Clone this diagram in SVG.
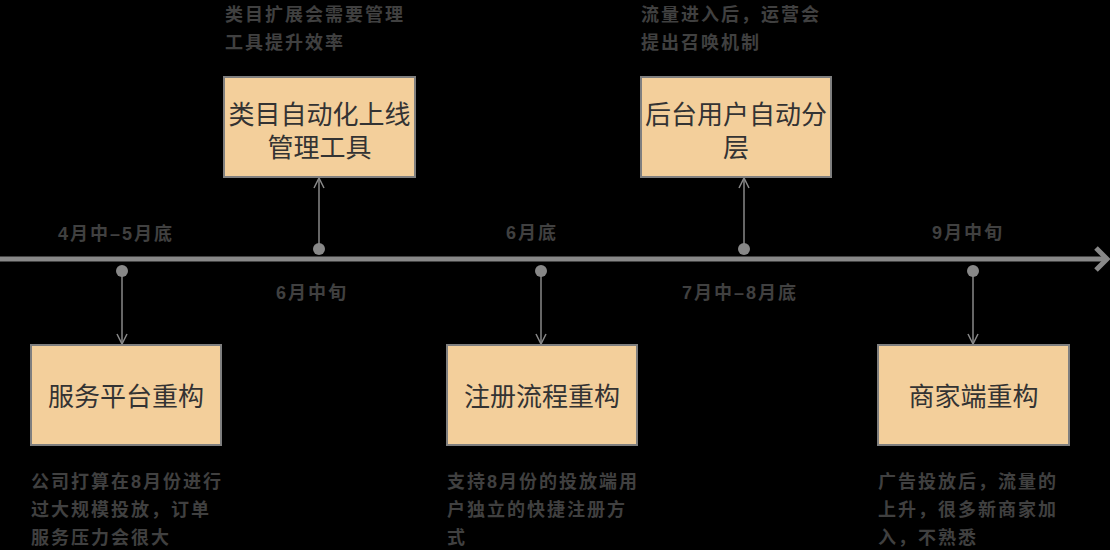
<svg xmlns="http://www.w3.org/2000/svg" width="1110" height="550" viewBox="0 0 1110 550">
<defs>
<style>
.box{fill:#f3cf9b;stroke:#7f7f7f;stroke-width:2}
.bt{font-family:"Liberation Sans","Noto Sans CJK SC",sans-serif;font-size:26px;fill:#333;text-anchor:middle;dominant-baseline:central}
.lb{font-family:"Liberation Sans","Noto Sans CJK SC",sans-serif;font-size:18px;fill:#404040;letter-spacing:2px;font-weight:bold;dominant-baseline:central}
.ln{stroke:#888;stroke-width:1.5;fill:none}
.dot{fill:#888}
</style>
<marker id="ah" viewBox="0 0 12 12" refX="11" refY="6" markerWidth="12" markerHeight="12" markerUnits="userSpaceOnUse" orient="auto">
<path d="M1 1 L11 6 L1 11" fill="none" stroke="#888" stroke-width="1.5"/>
</marker>
</defs>
<rect width="1110" height="550" fill="#000"/>
<g id="connectors">
<path d="M0 259 H1106" stroke="#888" stroke-width="5" fill="none"/>
<path d="M1096 248 L1107 259 L1096 270" stroke="#888" stroke-width="5" fill="none"/>
<path class="ln" d="M122 271 V344" marker-end="url(#ah)"/>
<path class="ln" d="M319 249 V178" marker-end="url(#ah)"/>
<path class="ln" d="M541 271 V344" marker-end="url(#ah)"/>
<path class="ln" d="M744 249 V178" marker-end="url(#ah)"/>
<path class="ln" d="M973 271 V344" marker-end="url(#ah)"/>
<circle class="dot" cx="122" cy="271" r="6"/>
<circle class="dot" cx="319" cy="249" r="6"/>
<circle class="dot" cx="541" cy="271" r="6"/>
<circle class="dot" cx="744" cy="249" r="6"/>
<circle class="dot" cx="973" cy="271" r="6"/>
</g>
<g id="labels">
<text class="lb" x="58" y="234">4月中–5月底</text>
<text class="lb" x="276" y="293">6月中旬</text>
<text class="lb" x="506" y="233">6月底</text>
<text class="lb" x="682" y="293">7月中–8月底</text>
<text class="lb" x="932" y="233">9月中旬</text>
</g>
<g id="node1">
<rect class="box" x="31" y="345" width="190" height="100"/>
<text class="bt" x="126" y="397">服务平台重构</text>
<text class="lb"><tspan x="31" y="482">公司打算在8月份进行</tspan><tspan x="31" y="510">过大规模投放，订单</tspan><tspan x="31" y="538">服务压力会很大</tspan></text>
</g>
<g id="node2">
<rect class="box" x="224" y="77" width="191" height="100"/>
<text class="bt"><tspan x="319.5" y="115">类目自动化上线</tspan><tspan x="319.5" y="148">管理工具</tspan></text>
<text class="lb"><tspan x="225" y="15">类目扩展会需要管理</tspan><tspan x="225" y="43">工具提升效率</tspan></text>
</g>
<g id="node3">
<rect class="box" x="447" y="345" width="190" height="100"/>
<text class="bt" x="542" y="397">注册流程重构</text>
<text class="lb"><tspan x="447" y="482">支持8月份的投放端用</tspan><tspan x="447" y="510">户独立的快捷注册方</tspan><tspan x="447" y="538">式</tspan></text>
</g>
<g id="node4">
<rect class="box" x="641" y="77" width="190" height="100"/>
<text class="bt"><tspan x="736" y="115">后台用户自动分</tspan><tspan x="736" y="148">层</tspan></text>
<text class="lb"><tspan x="641" y="15">流量进入后，运营会</tspan><tspan x="641" y="43">提出召唤机制</tspan></text>
</g>
<g id="node5">
<rect class="box" x="878" y="345" width="191" height="100"/>
<text class="bt" x="973.5" y="397">商家端重构</text>
<text class="lb"><tspan x="878" y="482">广告投放后，流量的</tspan><tspan x="878" y="510">上升，很多新商家加</tspan><tspan x="878" y="538">入，不熟悉</tspan></text>
</g>
</svg>
